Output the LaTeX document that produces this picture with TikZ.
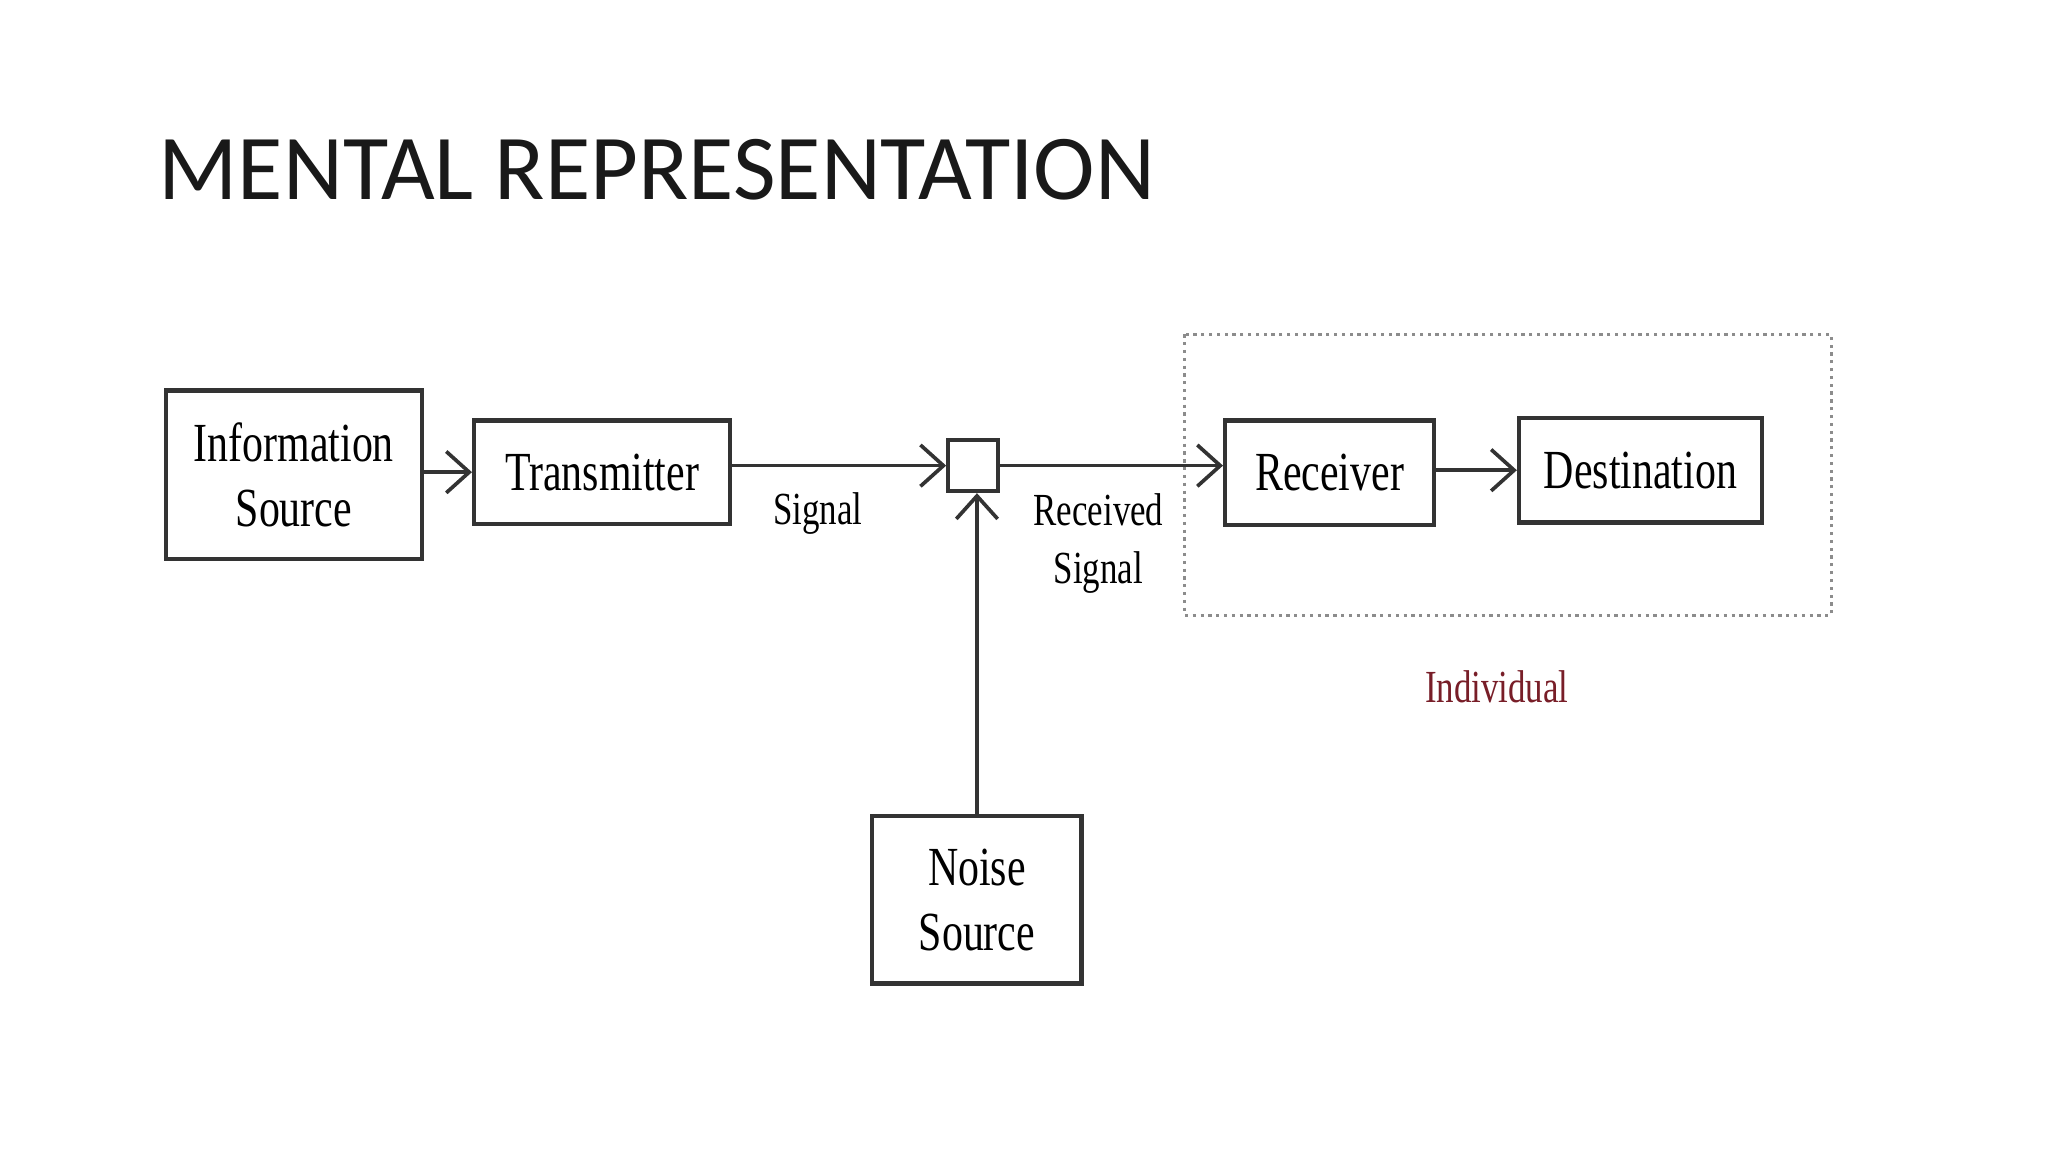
\documentclass[tikz,border=0pt]{standalone}
\usepackage{fontspec}
\setmainfont{Liberation Serif}
\newfontfamily\diag[FakeStretch=0.76]{Liberation Serif}
\newfontfamily\ttl{Carlito}
\usetikzlibrary{arrows.meta}
\definecolor{indred}{RGB}{120,30,40}
\tikzset{
  blk/.style={draw=black!80, line width=0.9pt, font=\diag\fontsize{12}{14}\selectfont, align=center, inner sep=0pt},
  con/.style={draw=black!80, line width=0.8pt, -{Straight Barb[length=5pt,width=9pt]}},
  lbl/.style={font=\diag\fontsize{10}{12.5}\selectfont, align=center}
}
\begin{document}
\begin{tikzpicture}[x=0.01cm,y=-0.01cm]
\useasboundingbox (0,0) rectangle (1568,882);
\node[anchor=west, font=\ttl\fontsize{20.2}{24}\selectfont, text=black!90] (title) at (109,130) {MENTAL REPRESENTATION};
\draw[draw=black!45, line width=0.7pt, densely dotted] (907,256) rectangle (1402,471);
\node[blk, minimum width=1.96cm, minimum height=1.29cm] (info) at (225,363.5) {Information\\Source};
\node[blk, minimum width=1.96cm, minimum height=0.79cm] (tx) at (461,361.5) {Transmitter};
\node[draw=black!80, line width=0.9pt, minimum width=0.38cm, minimum height=0.39cm, inner sep=0pt] (mix) at (745,356.5) {};
\node[blk, minimum width=1.60cm, minimum height=1.28cm] (noise) at (748,689) {Noise\\Source};
\node[blk, minimum width=1.60cm, minimum height=0.80cm] (rx) at (1018,362) {Receiver};
\node[blk, minimum width=1.86cm, minimum height=0.80cm] (dest) at (1256,360) {Destination};
\node[lbl] (sig) at (626,393) {Signal};
\node[lbl] (rsig) at (841,416) {Received\\Signal};
\node[lbl, text=indred] (ind) at (1146,526) {Individual};
\draw[con] (info.east |- tx) -- (tx.west);
\draw[con] (tx.east |- mix) -- (mix.west);
\draw[con] (noise.north) -- (noise.north |- mix.south);
\draw[con] (mix.east) -- (rx.west |- mix);
\draw[con] (rx.east |- dest) -- (dest.west);
\end{tikzpicture}
\end{document}
